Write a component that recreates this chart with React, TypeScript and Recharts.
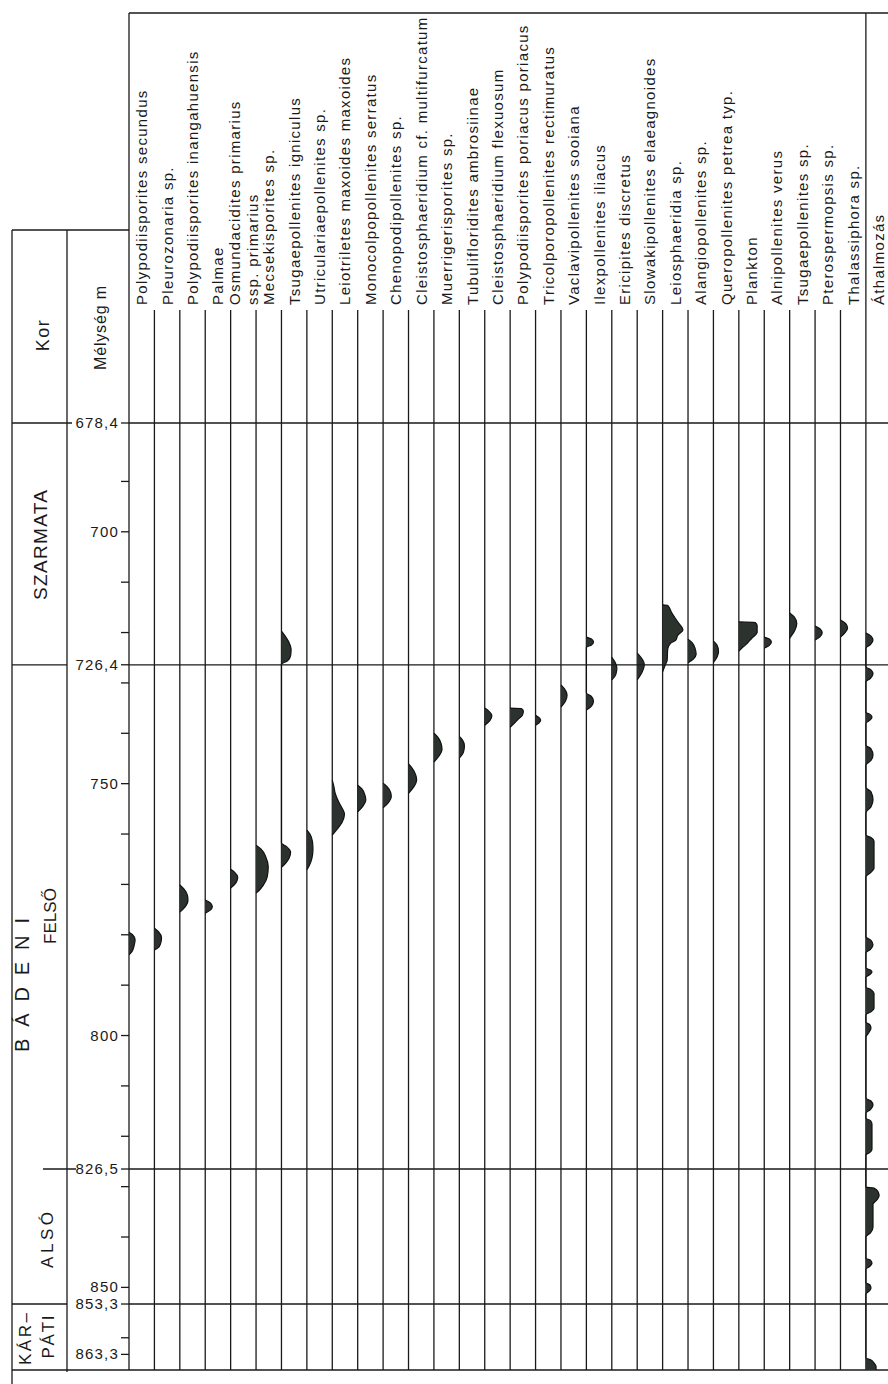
import React from 'react';
import { ComposedChart, Area, XAxis, YAxis, ReferenceLine } from 'recharts';

type Profile = [number, number][];

// Taxon headings, left to right ('\n' splits a heading over two lines)
const TAXA = [
    'Polypodiisporites secundus',
    'Pleurozonaria sp.',
    'Polypodiisporites inangahuensis',
    'Palmae',
    'Osmundacidites primarius\nssp. primarius',
    'Mecsekisporites sp.',
    'Tsugaepollenites igniculus',
    'Utriculariaepollenites sp.',
    'Leiotriletes maxoides maxoides',
    'Monocolpopollenites serratus',
    'Chenopodipollenites sp.',
    'Cleistosphaeridium cf. multifurcatum',
    'Muerrigerisporites sp.',
    'Tubulifloridites ambrosiinae',
    'Cleistosphaeridium flexuosum',
    'Polypodiisporites poriacus poriacus',
    'Tricolporopollenites rectimuratus',
    'Vaclavipollenites sooiana',
    'Ilexpollenites iliacus',
    'Ericipites discretus',
    'Slowakipollenites elaeagnoides',
    'Leiosphaeridia sp.',
    'Alangiopollenites sp.',
    'Queropollenites petrea typ.',
    'Plankton',
    'Alnipollenites verus',
    'Tsugaepollenites sp.',
    'Pterospermopsis sp.',
    'Thalassiphora sp.',
    'Áthalmozás',
];

// Abundance silhouettes: [depth m, %]
const polypodiisporitesSecundus: Profile = [[779.5, 0], [780.0, 3.5], [781.0, 6], [782.2, 5], [783.3, 3], [784.0, 0]];
const pleurozonaria: Profile = [[778.7, 0], [779.4, 4], [780.6, 7], [781.8, 6], [782.6, 3.5], [783.0, 0]];
const polypodiisporitesInangahuensis: Profile = [[770.1, 0], [770.9, 4], [772.2, 7.5], [773.2, 8], [774.5, 5], [775.5, 0]];
const palmae: Profile = [[773.1, 0], [773.6, 4.5], [774.4, 7], [775.1, 5], [775.7, 0]];
const osmundacidites: Profile = [[767.0, 0], [767.6, 4], [768.6, 7], [769.6, 5.5], [770.7, 0]];
const mecsekisporites: Profile = [[762.2, 0], [763.0, 5], [764.5, 9.5], [766.5, 12], [768.5, 11], [770.2, 7], [771.2, 3], [771.7, 0]];
const tsugaepollenitesIgniculus: Profile = [
    [719.7, 0], [720.5, 3], [721.8, 7], [723.3, 9.5], [724.6, 9], [725.6, 6], [726.3, 0],
    [761.8, 0], [762.5, 5], [763.6, 9], [764.8, 7.5], [765.8, 4], [766.6, 0],
];
const utriculariaepollenites: Profile = [[759.2, 0], [760.0, 3], [761.5, 5.5], [763.0, 6], [764.8, 5], [766.2, 2.5], [767.1, 0]];
const leiotriletes: Profile = [[749.3, 0], [750.5, 1.5], [752.0, 3], [753.5, 6], [755.0, 10], [756.0, 12], [757.5, 10], [759.0, 5], [760.2, 0]];
const monocolpopollenites: Profile = [[750.3, 0], [751.0, 4], [752.2, 7], [753.2, 8], [754.5, 5], [755.6, 0]];
const chenopodipollenites: Profile = [[749.9, 0], [750.6, 4], [751.8, 7.5], [752.6, 8], [753.8, 5], [754.8, 0]];
const cleistosphaeridiumMultifurcatum: Profile = [[746.1, 0], [746.9, 3.5], [748.2, 7], [749.2, 8], [750.7, 5], [751.9, 0]];
const muerrigerisporites: Profile = [[740.0, 0], [740.8, 4], [742.0, 7], [743.2, 8], [744.5, 5], [745.7, 0]];
const tubulifloridites: Profile = [[740.6, 0], [741.3, 3], [742.5, 5], [743.8, 4], [744.9, 0]];
const cleistosphaeridiumFlexuosum: Profile = [[735.0, 0], [735.6, 4], [736.5, 7], [737.5, 5], [738.4, 0]];
const polypodiisporitesPoriacus: Profile = [[735.0, 0], [735.1, 11], [735.6, 13], [736.4, 12], [737.2, 8], [738.0, 4], [738.8, 0]];
const tricolporopollenites: Profile = [[736.4, 0], [736.9, 3.5], [737.4, 5], [737.9, 3.5], [738.4, 0]];
const vaclavipollenites: Profile = [[730.4, 0], [731.2, 3.5], [732.4, 6], [733.6, 4.5], [734.8, 0]];
const ilexpollenites: Profile = [
    [720.9, 0], [721.3, 5], [721.9, 7], [722.5, 5], [722.9, 0],
    [732.0, 0], [732.6, 4.5], [733.6, 7], [734.6, 5], [735.4, 0],
];
const ericipites: Profile = [[724.9, 0], [725.8, 3], [727.0, 5], [728.3, 4], [729.4, 0]];
const slowakipollenites: Profile = [[724.1, 0], [725.0, 4], [726.4, 7], [727.8, 5], [729.4, 0]];
const leiosphaeridia: Profile = [
    [714.5, 0], [714.6, 5], [716.1, 9], [717.9, 15], [719.5, 20], [720.5, 15], [721.5, 13],
    [722.1, 8], [723.3, 5], [725.5, 4.5], [726.5, 2.5], [727.8, 0],
];
const alangiopollenites: Profile = [[721.3, 0], [722.0, 4], [723.2, 7], [724.3, 8], [725.3, 5], [726.0, 0]];
const queropollenites: Profile = [[721.7, 0], [722.5, 3.5], [723.7, 5], [724.9, 3.5], [725.9, 0]];
const plankton: Profile = [[717.9, 0], [718.0, 16], [718.6, 18], [720.0, 18], [720.9, 14], [721.5, 11], [722.2, 8], [722.9, 4], [723.7, 0]];
const alnipollenites: Profile = [[720.9, 0], [721.3, 5], [721.9, 7], [722.6, 4.5], [723.1, 0]];
const tsugaepollenites: Profile = [[716.1, 0], [716.9, 4.5], [718.2, 7], [719.6, 5], [721.1, 0]];
const pterospermopsis: Profile = [[718.7, 0], [719.3, 5], [720.1, 7], [720.9, 4.5], [721.5, 0]];
const thalassiphora: Profile = [[717.5, 0], [718.2, 5], [719.1, 7], [720.0, 4.5], [720.9, 0]];
const athalmozas: Profile = [
    [720.1, 0], [720.7, 5], [721.5, 7], [722.4, 4.5], [723.1, 0],
    [726.8, 0], [727.4, 5], [728.2, 7], [729.1, 4.5], [729.8, 0],
    [735.8, 0], [736.3, 4.5], [736.8, 6], [737.4, 4], [738.0, 0],
    [742.3, 0], [743.1, 5], [744.3, 7], [745.4, 5], [746.3, 0],
    [750.7, 0], [751.6, 5], [753.2, 7], [754.6, 5], [755.8, 0],
    [760.2, 0], [760.7, 5], [761.4, 8], [766.8, 8], [767.6, 5], [768.5, 0],
    [780.4, 0], [781.1, 5], [782.0, 7], [782.9, 4.5], [783.6, 0],
    [786.6, 0], [787.0, 4.5], [787.4, 6], [787.9, 4], [788.4, 0],
    [790.4, 0], [790.9, 5], [791.6, 8], [794.6, 8], [795.3, 5], [795.9, 0],
    [797.3, 0], [797.9, 4], [798.5, 5], [799.4, 3], [800.3, 0],
    [812.4, 0], [813.0, 5], [813.8, 7], [814.7, 4.5], [815.4, 0],
    [816.4, 0], [816.9, 4.5], [817.6, 6], [822.6, 6], [823.2, 4], [823.7, 0],
    [830.1, 0], [830.3, 8], [831.0, 12], [831.8, 13], [832.6, 11], [833.5, 7], [838.0, 7], [839.2, 4.5], [840.0, 0],
    [844.2, 0], [844.6, 4.5], [845.2, 6], [845.8, 4], [846.4, 0],
    [849.1, 0], [849.5, 4], [850.1, 5], [850.7, 3.5], [851.3, 0],
    [864.0, 0], [864.4, 5], [865.0, 8], [865.7, 10], [866.4, 10],
];

const PROFILES: Profile[] = [
    polypodiisporitesSecundus, pleurozonaria, polypodiisporitesInangahuensis, palmae, osmundacidites,
    mecsekisporites, tsugaepollenitesIgniculus, utriculariaepollenites, leiotriletes, monocolpopollenites,
    chenopodipollenites, cleistosphaeridiumMultifurcatum, muerrigerisporites, tubulifloridites,
    cleistosphaeridiumFlexuosum, polypodiisporitesPoriacus, tricolporopollenites, vaclavipollenites,
    ilexpollenites, ericipites, slowakipollenites, leiosphaeridia, alangiopollenites, queropollenites,
    plankton, alnipollenites, tsugaepollenites, pterospermopsis, thalassiphora, athalmozas,
];

const LABELED_DEPTHS = [678.4, 700, 726.4, 750, 800, 826.5, 850, 853.3, 863.3];
const MINOR_DEPTHS = [690, 710, 720, 730, 740, 760, 770, 780, 790, 810, 820, 830, 840, 860];
const STAGE_LIMITS = [678.4, 726.4, 826.5, 853.3];

// layout
const FONT = '"Liberation Sans", Arimo, Arial, Helvetica, sans-serif';
const INK = '#1a1a1a';
const FILL = '#2c332f';
const N_COLS = TAXA.length;
const UNITS_PER_COL = 25;
const PLOT_LEFT = 129;
const COL_W = 25.41;
const PLOT_TOP = 423;
const PLOT_BOTTOM = 1370;
const DEPTH_DOMAIN: [number, number] = [678.4, 866.4];
const Y_AXIS_W = 100;
const CHART_W = 900;
const CHART_H = 1384;
const LABEL_BASE = 305;
const LINE_TOP = 310;

const yOf = (d: number) =>
    PLOT_TOP + ((d - DEPTH_DOMAIN[0]) / (DEPTH_DOMAIN[1] - DEPTH_DOMAIN[0])) * (PLOT_BOTTOM - PLOT_TOP);
const colX = (i: number) => PLOT_LEFT + i * COL_W;
const fmtDepth = (d: number) => (Number.isInteger(d) ? String(d) : d.toFixed(1).replace('.', ','));

// one row per sampled depth, one key per taxon column
const TABLE = (() => {
    const depths = Array.from(new Set(PROFILES.flatMap(p => p.map(([d]) => d)))).sort((a, b) => a - b);
    return depths.map(depth => {
        const row: Record<string, number> = { depth };
        PROFILES.forEach((p, i) => {
            const hit = p.find(([d]) => d === depth);
            if (hit) row[`c${i}`] = hit[1];
        });
        return row;
    });
})();

const DepthTick = (props: any) => {
    const { x, y, payload } = props;
    if (!LABELED_DEPTHS.includes(payload.value)) return <g />;
    return (
        <text x={x} y={y} dy={5} textAnchor="end" fontFamily={FONT} fontSize={15} letterSpacing={1.2} fill={INK}>
            {fmtDepth(payload.value)}
        </text>
    );
};

const VText = ({ x, y, size, children, length, spacing }: any) => (
    <text
        transform={`translate(${x},${y}) rotate(-90)`}
        textAnchor="middle"
        dominantBaseline="central"
        fontFamily={FONT}
        fontSize={size}
        letterSpacing={spacing}
        textLength={length}
        fill={INK}
    >
        {children}
    </text>
);

const Frame: React.FC = () => {
    const line = { stroke: INK, strokeWidth: 1.3 };
    const stageLeft: Record<number, [number, number]> = {
        678.4: [12, 72],
        726.4: [12, 67],
        826.5: [43, 76],
        853.3: [12, 67],
    };
    return (
        <svg width={888} height={1384} style={{ position: 'absolute', left: 0, top: 0 }}>
            <line x1={PLOT_LEFT} y1={13} x2={888} y2={13} {...line} />
            <line x1={12} y1={230} x2={PLOT_LEFT} y2={230} {...line} />
            <line x1={12} y1={230} x2={12} y2={1384} {...line} />
            <line x1={67} y1={230} x2={67} y2={1372} {...line} />
            <line x1={PLOT_LEFT} y1={13} x2={PLOT_LEFT} y2={PLOT_BOTTOM} {...line} />
            {TAXA.map((_, i) =>
                i === 0 ? null : (
                    <line key={i} x1={colX(i)} y1={i === N_COLS - 1 ? 13 : LINE_TOP} x2={colX(i)} y2={PLOT_BOTTOM} {...line} />
                )
            )}
            <line x1={12} y1={PLOT_BOTTOM} x2={888} y2={PLOT_BOTTOM} {...line} />
            {STAGE_LIMITS.map(d => (
                <line key={d} x1={stageLeft[d][0]} y1={yOf(d)} x2={stageLeft[d][1]} y2={yOf(d)} {...line} />
            ))}

            {/* taxon headings */}
            {TAXA.map((name, i) => {
                const parts = name.split('\n');
                const cx = colX(i) + COL_W / 2;
                return parts.map((p, k) => (
                    <text
                        key={`${i}-${k}`}
                        transform={`translate(${cx + (k - (parts.length - 1) / 2) * 18},${LABEL_BASE}) rotate(-90)`}
                        dominantBaseline="central"
                        fontFamily={FONT}
                        fontSize={15}
                        letterSpacing={1.3}
                        fill={INK}
                    >
                        {p}
                    </text>
                ));
            })}

            <VText x={43} y={335} size={18} spacing={1.5}>Kor</VText>
            <VText x={100} y={328} size={16} length={84}>Mélység m</VText>
            <VText x={40} y={545} size={19} length={110}>SZARMATA</VText>
            <VText x={22} y={985} size={20} length={134}>B Á D E N I</VText>
            <VText x={50} y={916} size={17} length={56}>FELSŐ</VText>
            <VText x={47} y={1240} size={17} length={56}>ALSÓ</VText>
            <VText x={25} y={1339} size={17} length={52}>KÁR–</VText>
            <VText x={48} y={1337} size={17} length={43}>PÁTI</VText>
        </svg>
    );
};

const App: React.FC = () => (
    <div style={{ position: 'absolute', left: 0, top: 0, width: 888, height: 1384, overflow: 'hidden', background: '#fff' }}>
        <Frame />
        <div style={{ position: 'absolute', left: 0, top: 0 }}>
            <ComposedChart
                layout="vertical"
                width={CHART_W}
                height={CHART_H}
                data={TABLE}
                margin={{
                    top: PLOT_TOP,
                    bottom: CHART_H - PLOT_BOTTOM,
                    left: PLOT_LEFT - Y_AXIS_W,
                    right: CHART_W - PLOT_LEFT - N_COLS * COL_W,
                }}
            >
                {TAXA.map((_, i) => (
                    <XAxis
                        key={`x${i}`}
                        xAxisId={i}
                        type="number"
                        domain={[-i * UNITS_PER_COL, (N_COLS - i) * UNITS_PER_COL]}
                        allowDataOverflow
                        hide
                    />
                ))}
                <YAxis
                    yAxisId={0}
                    type="number"
                    dataKey="depth"
                    domain={DEPTH_DOMAIN}
                    allowDataOverflow
                    ticks={[...LABELED_DEPTHS, ...MINOR_DEPTHS].sort((a, b) => a - b)}
                    interval={0}
                    width={Y_AXIS_W}
                    axisLine={false}
                    tickSize={8}
                    tickMargin={2}
                    tickLine={{ stroke: INK, strokeWidth: 1.3 }}
                    tick={DepthTick}
                />
                {STAGE_LIMITS.map(d => (
                    <ReferenceLine key={d} y={d} xAxisId={0} yAxisId={0} stroke={INK} strokeWidth={1.3} />
                ))}
                {TAXA.map((name, i) => (
                    <Area
                        key={name}
                        name={name}
                        xAxisId={i}
                        yAxisId={0}
                        dataKey={`c${i}`}
                        type="monotone"
                        baseValue={0}
                        connectNulls
                        stroke="#111"
                        strokeWidth={1.2}
                        fill={FILL}
                        fillOpacity={1}
                        dot={false}
                        activeDot={false}
                        isAnimationActive={false}
                    />
                ))}
            </ComposedChart>
        </div>
    </div>
);

export default App;
